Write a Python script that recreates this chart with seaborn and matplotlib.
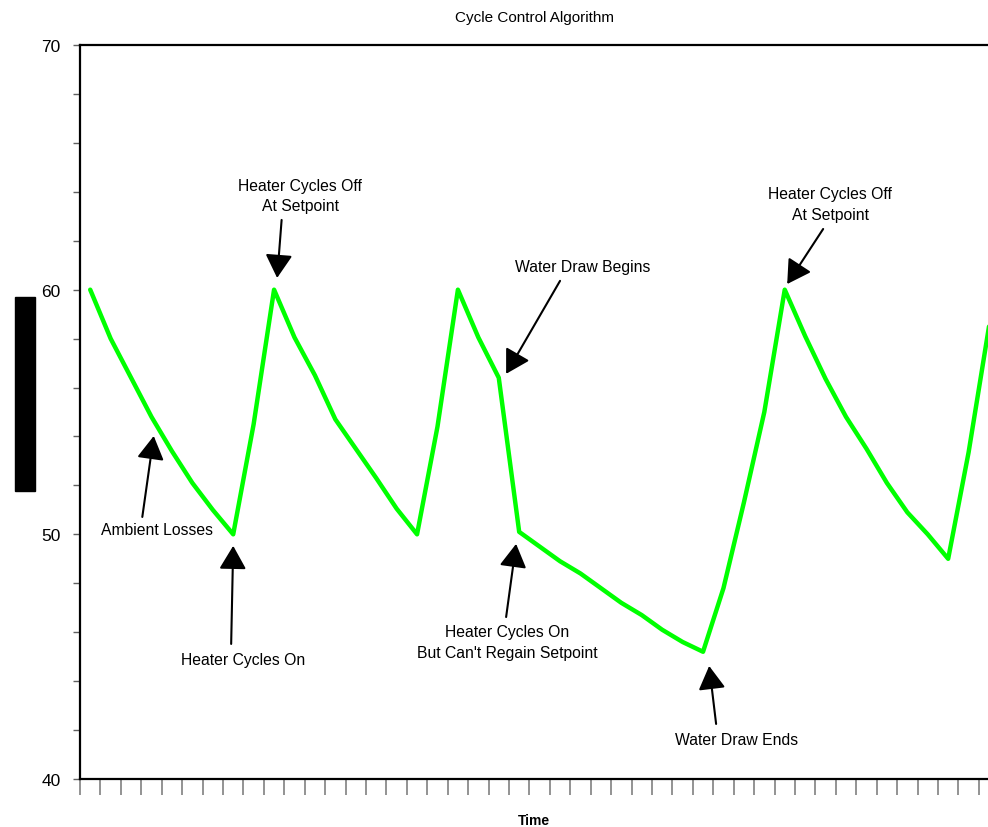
import matplotlib
matplotlib.use("Agg")
import matplotlib.pyplot as plt
import numpy as np
import pandas as pd
import seaborn as sns
from matplotlib.ticker import FixedLocator, MultipleLocator

# Tank temperature sampled once per time step
steps = list(range(45))
temps = [60.0, 58.0, 56.4, 54.8, 53.4, 52.1, 51.0, 50.0,
         54.5, 60.0,
         58.05, 56.5, 54.7, 53.5, 52.3, 51.05, 50.0,
         54.4, 60.0,
         58.05, 56.4,
         50.1, 49.5, 48.9, 48.4, 47.8, 47.2, 46.7, 46.1, 45.6, 45.2,
         47.8, 51.3, 55.0, 60.0,
         58.1, 56.35, 54.8, 53.5, 52.1, 50.9, 50.0, 49.0,
         53.35, 58.5]

# Callouts: label, label position, arrow tail, arrow tip (data units)
notes = [
    ("Ambient Losses", (3.28, 50.18), (2.55, 50.71), (3.11, 54.02)),
    ("Heater Cycles On", (7.49, 44.87), (6.90, 45.52), (7.00, 49.53)),
    ("Heater Cycles Off\nAt Setpoint", (10.28, 63.85), (9.37, 62.85), (9.15, 60.48)),
    ("Water Draw Begins", (24.13, 60.93), (23.00, 60.36), (20.36, 56.56)),
    ("Heater Cycles On\nBut Can't Regain Setpoint", (20.41, 45.60), (20.36, 46.62), (20.85, 49.61)),
    ("Water Draw Ends", (31.62, 41.60), (30.64, 42.25), (30.30, 44.62)),
    ("Heater Cycles Off\nAt Setpoint", (36.22, 63.50), (35.88, 62.48), (34.12, 60.23)),
]

sns.set_theme(style="white")
plt.rcParams["font.family"] = ["Liberation Sans", "DejaVu Sans"]
plt.rcParams["text.color"] = "black"
plt.rcParams["axes.labelcolor"] = "black"
plt.rcParams["ytick.labelcolor"] = "black"

df = pd.DataFrame({"Time": steps, "Temperature": temps})

fig = plt.figure(figsize=(9.88, 8.28), dpi=100)
ax = fig.add_axes([80 / 988, 48 / 828, 908 / 988, 734 / 828])

sns.lineplot(data=df, x="Time", y="Temperature", ax=ax,
             color="#00ff00", lw=3.2)

ax.set_xlim(-0.5, 43.95)
ax.set_ylim(40, 70)

ax.xaxis.set_major_locator(FixedLocator(np.arange(-0.5, 44.0, 1.0)))
ax.yaxis.set_major_locator(MultipleLocator(10))
ax.yaxis.set_minor_locator(MultipleLocator(2))
ax.tick_params(axis="x", which="major", direction="out", length=11.5,
               width=1.2, color="#808080", labelbottom=False, bottom=True)
ax.tick_params(axis="y", which="both", direction="out", length=5,
               width=1.0, color="#606060", left=True)
ax.tick_params(axis="y", which="major", labelsize=12.5, pad=9,
               labelcolor="black")

for side in ("left", "top", "bottom"):
    ax.spines[side].set_color("black")
    ax.spines[side].set_linewidth(1.6)
ax.spines["right"].set_visible(False)

ax.set_xlabel("Time", fontsize=10, fontweight="bold", color="black")
ax.xaxis.set_label_coords(0.5, -0.047)
ax.set_ylabel("Water Temperature (deg F)", fontsize=11.3, color="black",
              bbox=dict(facecolor="black", edgecolor="black",
                        boxstyle="square,pad=0.15"))
ax.yaxis.set_label_coords(-0.052, 0.524)

fig.text(534 / 988, 1 - 18 / 828, "Cycle Control Algorithm",
         ha="center", va="center", fontsize=11, color="black")

arrow = dict(arrowstyle="-|>,head_length=1.0,head_width=0.58",
             mutation_scale=14.4, lw=1.5, color="black",
             shrinkA=0, shrinkB=0)
for label, pos, tail, tip in notes:
    ax.text(pos[0], pos[1], label, ha="center", va="center",
            fontsize=11.3, linespacing=1.45, color="black")
    ax.annotate("", xy=tip, xytext=tail, arrowprops=arrow)

fig.savefig("out.png", dpi=100)
